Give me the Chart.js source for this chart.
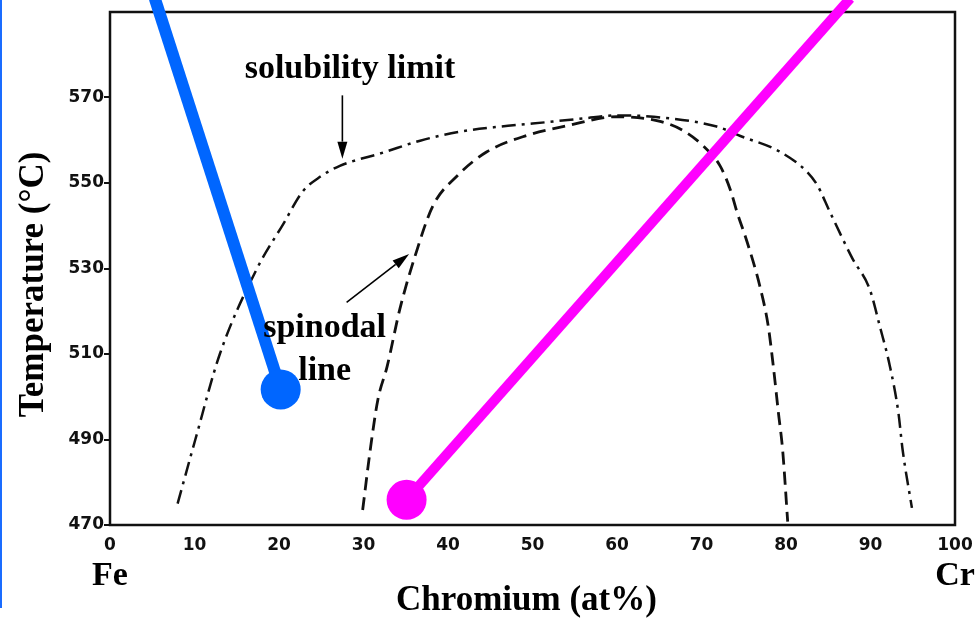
<!DOCTYPE html>
<html><head><meta charset="utf-8">
<script src="https://cdn.jsdelivr.net/npm/chart.js@4.4.1/dist/chart.umd.min.js"></script>
<style>html,body{margin:0;padding:0;background:#fff;overflow:hidden}</style>
</head><body>
<canvas id="c" width="976" height="621"></canvas>
<script>
// ---- data ----
const solubilityX = [8.0, 10.1, 13.0, 17.4, 20.5, 22.8, 24.9, 27.2, 32.3, 36.7, 41.4, 46.2, 50.0, 56.0, 60.0, 64.3, 71.8, 74.6, 79.3, 82.5, 83.7, 85.2, 87.9, 89.9, 91.1, 92.3, 93.3, 93.8, 94.9];
const solubilityT = [475.0, 490.0, 510.0, 530.0, 540.4, 548.0, 551.5, 554.0, 557.1, 559.9, 562.0, 563.2, 563.9, 565.1, 565.8, 565.5, 563.2, 561.0, 557.3, 552.6, 549.5, 543.2, 532.2, 525.2, 516.5, 507.1, 496.3, 487.6, 474.0];
const spinodalX = [29.9, 30.8, 31.7, 32.8, 34.3, 36.1, 38.2, 41.1, 44.6, 49.3, 54.1, 60.0, 65.1, 67.8, 70.2, 72.2, 73.4, 74.2, 75.4, 76.9, 77.9, 78.5, 79.1, 79.6, 80.2];
const spinodalT = [473.5, 487.6, 499.3, 507.1, 520.5, 532.9, 544.6, 551.7, 557.3, 561.1, 563.4, 565.5, 564.4, 562.3, 558.7, 554.0, 548.5, 543.2, 536.2, 525.9, 516.5, 507.1, 496.3, 487.6, 470.8];
const feRichX = [5.3, 20.2];
const feRichT = [593.2, 501.7];
const crRichX = [35.1, 87.6];
const crRichT = [475.9, 593.2];
const xTicks = [0, 10, 20, 30, 40, 50, 60, 70, 80, 90, 100];
const yTicks = [470, 490, 510, 530, 550, 570];
const xRange = [0, 100];
const yRange = [470, 590];
const xTitle = 'Chromium (at%)';
const yTitle = 'Temperature (°C)';

// annotation texts (data units)
const annoTexts = ['solubility limit', 'spinodal', 'line', 'Fe', 'Cr'];
const annoX = [28.4, 25.4, 25.4, 0, 100];
const annoT = [574.5, 513.9, 504.0, 455.9, 455.9];
// arrows (data units): from -> to
const arrowFromX = [27.5, 28.0];
const arrowFromT = [570.5, 522.1];
const arrowToX = [27.5, 35.4];
const arrowToT = [555.7, 533.4];

const toPts = (xs, ys) => xs.map((x, i) => ({x: x, y: ys[i]}));

const SERIF = '"Liberation Serif", "Times New Roman", serif';
const TICKFONT = {family: '"DejaVu Sans", sans-serif', size: 17, weight: 'bold'};

const decor = {
  id: 'decor',
  beforeDatasetsDraw(chart) {
    const {ctx, chartArea: a} = chart;
    ctx.save();
    ctx.strokeStyle = '#111';
    ctx.lineWidth = 2.5;
    ctx.strokeRect(a.left, a.top, a.right - a.left, a.bottom - a.top);
    ctx.fillStyle = '#1a6cff';
    ctx.fillRect(0, 0, 2, 608);
    ctx.restore();
  },
  afterDatasetsDraw(chart) {
    const {ctx, chartArea: a, scales: {x, y}} = chart;
    ctx.save();
    ctx.fillStyle = '#000';
    ctx.font = 'bold 34px ' + SERIF;
    ctx.textAlign = 'center';
    ctx.textBaseline = 'alphabetic';
    annoTexts.forEach((t, i) => {
      ctx.fillText(t, x.getPixelForValue(annoX[i]), y.getPixelForValue(annoT[i]));
    });
    // axis titles
    ctx.font = 'bold 35px ' + SERIF;
    ctx.fillText(xTitle, (a.left + a.right) / 2 - 6, a.bottom + 85);
    ctx.save();
    ctx.translate(43, (a.top + a.bottom) / 2 + 16);
    ctx.rotate(-Math.PI / 2);
    ctx.fillText(yTitle, 0, 0);
    ctx.restore();
    // arrows
    ctx.strokeStyle = '#000';
    ctx.lineWidth = 1.6;
    arrowFromX.forEach((fx, i) => {
      const x0 = x.getPixelForValue(fx), y0 = y.getPixelForValue(arrowFromT[i]);
      const x1 = x.getPixelForValue(arrowToX[i]), y1 = y.getPixelForValue(arrowToT[i]);
      const ang = Math.atan2(y1 - y0, x1 - x0);
      const hl = 17, hw = 5;
      const bx = x1 - hl * Math.cos(ang), by = y1 - hl * Math.sin(ang);
      ctx.beginPath(); ctx.moveTo(x0, y0); ctx.lineTo(bx, by); ctx.stroke();
      ctx.beginPath();
      ctx.moveTo(x1, y1);
      ctx.lineTo(bx + hw * Math.sin(ang), by - hw * Math.cos(ang));
      ctx.lineTo(bx - hw * Math.sin(ang), by + hw * Math.cos(ang));
      ctx.closePath(); ctx.fill();
    });
    ctx.restore();
  }
};

new Chart(document.getElementById('c'), {
  type: 'scatter',
  data: {
    datasets: [
      {label: 'Fe-rich', data: toPts(feRichX, feRichT), showLine: true,
       borderColor: '#0066ff', backgroundColor: '#0066ff', borderWidth: 12,
       pointRadius: [0, 20], pointHoverRadius: [0, 20], pointBorderWidth: 0,
       clip: false, order: 0},
      {label: 'Cr-rich', data: toPts(crRichX, crRichT), showLine: true,
       borderColor: '#ff00ff', backgroundColor: '#ff00ff', borderWidth: 10,
       pointRadius: [20, 0], pointHoverRadius: [20, 0], pointBorderWidth: 0,
       clip: false, order: 0},
      {label: 'solubility limit', data: toPts(solubilityX, solubilityT), showLine: true,
       borderColor: '#111', borderWidth: 2.5, borderDash: [14, 6, 3, 6],
       pointRadius: 0, cubicInterpolationMode: 'monotone', order: 1},
      {label: 'spinodal line', data: toPts(spinodalX, spinodalT), showLine: true,
       borderColor: '#111', borderWidth: 2.8, borderDash: [13, 7],
       pointRadius: 0, cubicInterpolationMode: 'monotone', order: 1}
    ]
  },
  options: {
    responsive: false, animation: false, events: [],
    layout: {autoPadding: false, padding: {top: 12, right: 21, left: 0, bottom: 0}},
    plugins: {legend: {display: false}, tooltip: {enabled: false}},
    scales: {
      x: {
        type: 'linear', min: xRange[0], max: xRange[1],
        afterBuildTicks: s => { s.ticks = xTicks.map(v => ({value: v})); },
        afterFit: s => { s.height = 96; },
        grid: {display: false},
        border: {display: false},
        ticks: {padding: 2, color: '#111', font: TICKFONT, maxRotation: 0, autoSkip: false},
        title: {display: false, text: xTitle}
      },
      y: {
        type: 'linear', min: yRange[0], max: yRange[1],
        afterBuildTicks: s => { s.ticks = yTicks.map(v => ({value: v})); },
        afterFit: s => { s.width = 110; },
        grid: {display: true, drawOnChartArea: false, drawTicks: true, tickLength: 6, color: '#111', lineWidth: 2},
        border: {display: false},
        ticks: {padding: 0, color: '#111', font: TICKFONT, autoSkip: false},
        title: {display: false, text: yTitle}
      }
    }
  },
  plugins: [decor]
});
</script>
</body></html>
